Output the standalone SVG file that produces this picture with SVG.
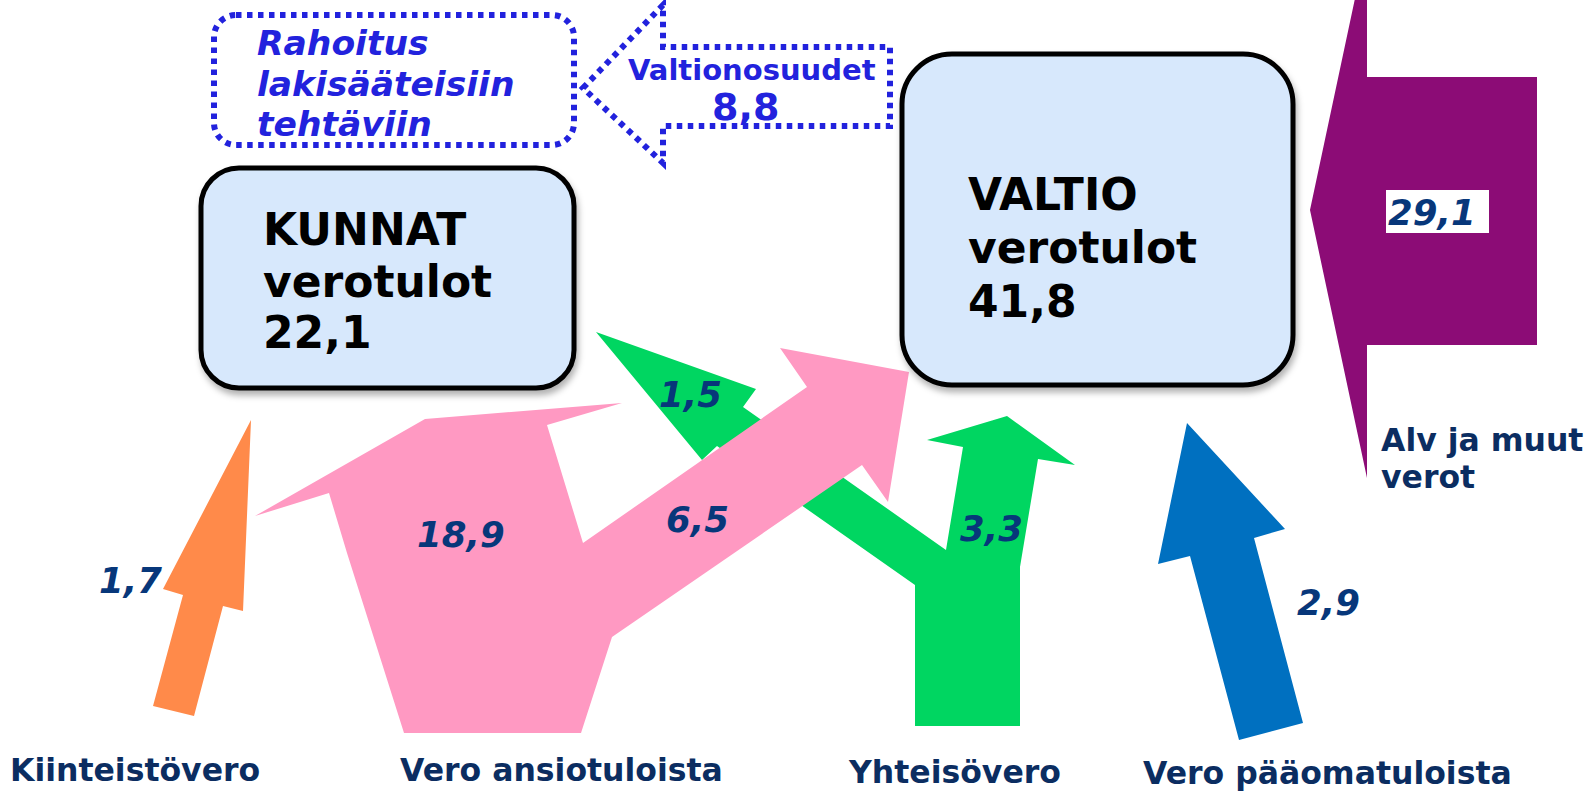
<svg xmlns="http://www.w3.org/2000/svg" width="1594" height="792" viewBox="0 0 1594 792">
<defs>
<filter id="sh" x="-10%" y="-10%" width="130%" height="130%"><feDropShadow dx="2" dy="5" stdDeviation="3" flood-color="#000" flood-opacity="0.3"/></filter>
</defs>
<style>
.box{fill:#d7e8fc;stroke:#000;stroke-width:5;filter:url(#sh)}
.boxt{font-family:"DejaVu Sans",Verdana,sans-serif;font-weight:bold;font-size:44px;fill:#000}
.dot{fill:none;stroke:#2222dd;stroke-width:6;stroke-dasharray:5.5 5.5}
.bt{font-family:"DejaVu Sans",Verdana,sans-serif;font-weight:bold;fill:#2222dd}
.num{font-family:"DejaVu Sans",Verdana,sans-serif;font-weight:bold;font-style:italic;font-size:35.5px;fill:#07377a}
.lab{font-family:"DejaVu Sans",Verdana,sans-serif;font-weight:bold;font-size:31.5px;fill:#0b2d61}
</style>
<rect width="1594" height="792" fill="#fff"/>
<g id="connectors">
<polygon id="alv" points="1310,210 1367,-58 1367,77 1537,77 1537,345 1367,345 1367,478" fill="#8c0c76"/>
<polygon id="kiinteisto" points="251,420 243,611 223,606 194,716 153,706 183,595 163,589" fill="#ff8a4a"/>
<polygon id="yhteiso" points="596,332 756,389 743,407 946,550 963,447 927,440 1007,416 1075,465 1038,459 1020,567 1020,726 915,726 915,585 717,446 702,460" fill="#00d661"/>
<polygon id="ansio" points="255,516 425,419 622,403 547,425 583,543 807,387 780,348 909,372 888,502 862,465 612,637 581,733 404,733 347,553 329,493" fill="#ff99c2"/>
<polygon id="paaoma" points="1187,423 1285,529 1254,538 1303,723 1239,740 1190,556 1158,564" fill="#0070c0"/>
<polygon id="valtionosuudet" class="dot" points="583,88 663,5 663,47 890,47 890,126 663,126 663,163"/>
</g>
<g id="rahoitus">
<rect class="dot" x="214" y="15" width="360" height="130" rx="22"/>
<text class="bt" font-style="italic" font-size="34.5" x="257"><tspan x="257" y="55">Rahoitus</tspan><tspan x="257" y="96">lakisääteisiin</tspan><tspan x="257" y="136">tehtäviin</tspan></text>
</g>
<g id="valtionosuudet-label">
<text class="bt" font-size="29" x="628" y="80">Valtionosuudet</text>
<text class="bt" font-size="38" x="712" y="120">8,8</text>
</g>
<g id="kunnat">
<rect class="box" x="201" y="168" width="373" height="220" rx="38"/>
<text class="boxt"><tspan x="263" y="245">KUNNAT</tspan><tspan x="263" y="297">verotulot</tspan><tspan x="263" y="348">22,1</tspan></text>
</g>
<g id="valtio">
<rect class="box" x="902" y="54" width="391" height="331" rx="50"/>
<text class="boxt"><tspan x="968" y="210">VALTIO</tspan><tspan x="968" y="263">verotulot</tspan><tspan x="968" y="317">41,8</tspan></text>
</g>
<g id="labels">
<rect x="1386" y="190" width="103" height="43" fill="#fff"/>
<text class="num" x="1388" y="225">29,1</text>
<text class="num" x="99" y="593">1,7</text>
<text class="num" x="417" y="547">18,9</text>
<text class="num" x="666" y="532">6,5</text>
<text class="num" x="659" y="407">1,5</text>
<text class="num" x="960" y="541">3,3</text>
<text class="num" x="1297" y="615">2,9</text>
<text class="lab"><tspan x="1381" y="451">Alv ja muut</tspan><tspan x="1381" y="488">verot</tspan></text>
<text class="lab" x="10" y="781">Kiinteistövero</text>
<text class="lab" x="400" y="781">Vero ansiotuloista</text>
<text class="lab" x="849" y="783">Yhteisövero</text>
<text class="lab" x="1143" y="784">Vero pääomatuloista</text>
</g>
</svg>
